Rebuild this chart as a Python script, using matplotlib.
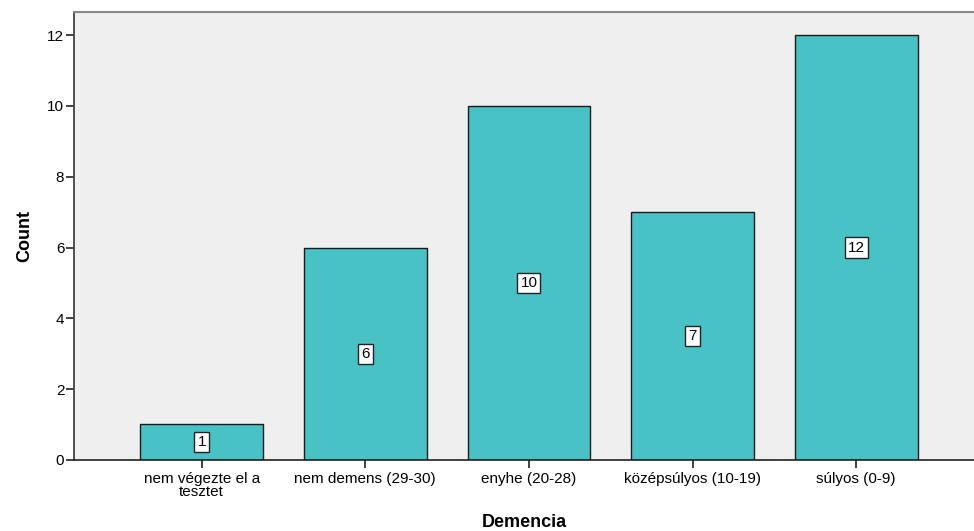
import matplotlib
matplotlib.use("Agg")
import matplotlib.pyplot as plt

categories = ["nem végezte el a\ntesztet", "nem demens (29-30)", "enyhe (20-28)",
              "középsúlyos (10-19)", "súlyos (0-9)"]
counts = [1, 6, 10, 7, 12]
yticks = [0, 2, 4, 6, 8, 10, 12]

plt.rcParams['font.family'] = ['Liberation Sans', 'DejaVu Sans']

fig = plt.figure(figsize=(9.74, 5.31), dpi=100)
ax = fig.add_axes([0.076, 0.134, 0.924, 0.843])
ax.set_facecolor('#EFEFEF')

x = list(range(len(categories)))
ax.bar(x, counts, width=0.75, color='#48C2C5', edgecolor='#1a1a1a', linewidth=1.0, zorder=2)

for xi, v in zip(x, counts):
    ax.text(xi, v / 2, str(v), ha='center', va='center', fontsize=11, color='black',
            bbox=dict(boxstyle='square,pad=0.2', facecolor='white', edgecolor='#222222', linewidth=1.0),
            zorder=3)

ax.set_xlim(-0.78, 4.72)
ax.set_ylim(0, 12.65)
ax.set_xticks(x)
ax.set_xticklabels(categories, fontsize=11, linespacing=0.85)
ax.set_yticks(yticks)
ax.set_yticklabels([str(t) for t in yticks], fontsize=11)
ax.tick_params(axis='both', length=6, width=1.3, color='#333333')
ax.tick_params(axis='y', pad=1)
ax.tick_params(axis='x', pad=3)

ax.spines['right'].set_visible(False)
ax.spines['left'].set_color('#444444')
ax.spines['left'].set_linewidth(1.3)
ax.spines['bottom'].set_color('#222222')
ax.spines['bottom'].set_linewidth(1.2)
ax.spines['top'].set_color('#888888')
ax.spines['top'].set_linewidth(1.5)

ax.set_ylabel('Count', fontsize=13, fontweight='bold', labelpad=10)
ax.set_xlabel('Demencia', fontsize=13, fontweight='bold')
ax.xaxis.set_label_coords(0.5, -0.12)

fig.savefig('out.png', dpi=100)
